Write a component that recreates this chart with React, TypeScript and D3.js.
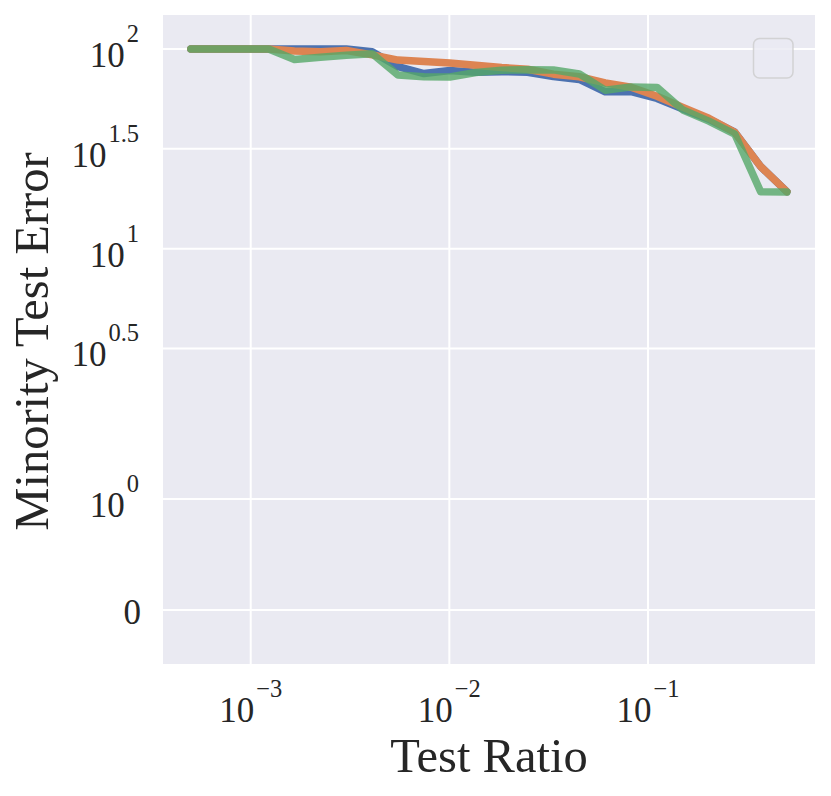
import React from "react";
import * as d3 from "d3";

// ---- data ----
const testRatio = [
  0.0005, 0.000675, 0.000911, 0.001231, 0.001661, 0.002243, 0.003028, 0.004088,
  0.005519, 0.007451, 0.01006, 0.01358, 0.01834, 0.02476, 0.03342, 0.04512,
  0.06092, 0.08225, 0.111, 0.1499, 0.2024, 0.2733, 0.369, 0.5,
];
const seriesBlue = [
  100, 100, 100, 100, 100, 100, 100, 97, 81.5, 75.3, 78, 76.5, 77, 76.5, 72.8,
  70.4, 61, 61.2, 56.5, 50, 44.5, 38.3, 25.8, 19.3,
];
const seriesOrange = [
  100, 100, 100, 100, 97.7, 97, 98.2, 93.5, 88, 86.5, 85, 83, 80.8, 79.2, 74.8,
  72.6, 67.6, 64.3, 58, 51, 45, 38.3, 25.8, 19.3,
];
const seriesGreen = [
  100, 100, 100, 100, 88.5, 91, 93, 94.7, 74, 72.6, 72.4, 76.3, 78.3, 78.8,
  78.6, 75, 62.2, 64.6, 64.2, 49.5, 43.5, 37.5, 19.3, 19.2,
];
const xTicks = [1e-3, 1e-2, 1e-1];
const xTickExp = ["\u22123", "\u22122", "\u22121"];
const yTicks = [0, 1, Math.pow(10, 0.5), 10, Math.pow(10, 1.5), 100];
const yTickBase = ["0", "10", "10", "10", "10", "10"];
const yTickExp = ["", "0", "0.5", "1", "1.5", "2"];

const colors = ["#4C72B0", "#DD8452", "#55A868"];
const alphas = [1, 1, 0.8];

// matplotlib-style symlog transform (linthresh 2, linscale 1)
const LINTHRESH = 2;
const LINSCALE_ADJ = 1 / (1 - 1 / 10);
function symT(v: number): number {
  const a = Math.abs(v);
  if (a <= LINTHRESH) return v * LINSCALE_ADJ;
  return Math.sign(v) * LINTHRESH * (LINSCALE_ADJ + Math.log10(a / LINTHRESH));
}

const W = 831;
const H = 796;
const axL = 163;
const axR = 815;
const axT = 15;
const axB = 664;

export default function App() {
  const x = d3.scaleLog().domain([1e-3, 1e-1]).range([250.7, 648]);
  const y = d3.scaleLinear().domain([0, symT(100)]).range([610, 49]);
  const line = d3
    .line<number>()
    .x((_, i) => x(testRatio[i]))
    .y((v) => y(symT(v)));

  const all = [seriesBlue, seriesOrange, seriesGreen];
  const font = "'Liberation Serif', 'Times New Roman', serif";
  const textColor = "#262626";

  return (
    <svg
      width={W}
      height={H}
      style={{ position: "absolute", left: 0, top: 0, background: "#fff" }}
    >
      <defs>
        <clipPath id="clip">
          <rect x={axL} y={axT} width={axR - axL} height={axB - axT} />
        </clipPath>
      </defs>
      <rect x={axL} y={axT} width={axR - axL} height={axB - axT} fill="#EAEAF2" />
      {/* grid */}
      {xTicks.map((t, i) => (
        <line key={"gx" + i} x1={x(t)} x2={x(t)} y1={axT} y2={axB} stroke="#fff" strokeWidth={2} />
      ))}
      {yTicks.map((t, i) => (
        <line key={"gy" + i} x1={axL} x2={axR} y1={y(symT(t))} y2={y(symT(t))} stroke="#fff" strokeWidth={2} />
      ))}
      {/* lines */}
      <g clipPath="url(#clip)">
        {all.map((s, i) => (
          <path
            key={"l" + i}
            d={line(s) || ""}
            fill="none"
            stroke={colors[i]}
            strokeOpacity={alphas[i]}
            strokeWidth={7.5}
            strokeLinejoin="round"
            strokeLinecap="round"
          />
        ))}
      </g>
      {/* empty legend */}
      <rect
        x={753.5}
        y={38.5}
        width={39.5}
        height={39.5}
        rx={6}
        fill="#EAEAF2"
        fillOpacity={0.8}
        stroke="#cccccc"
        strokeOpacity={0.8}
        strokeWidth={1.5}
      />
      {/* y tick labels */}
      {yTicks.map((t, i) => {
        const yy = y(symT(t));
        return (
          <text
            key={"yt" + i}
            x={yTickExp[i] ? 139 : 141}
            y={yy + (yTickExp[i] ? 18 : 14)}
            textAnchor="end"
            fontFamily={font}
            fontSize={35}
            fill={textColor}
          >
            <tspan>{yTickBase[i]}</tspan>
            {yTickExp[i] && (
              <tspan fontSize={24.5} dy={-25} dx={2}>
                {yTickExp[i]}
              </tspan>
            )}
          </text>
        );
      })}
      {/* x tick labels */}
      {xTicks.map((t, i) => (
        <text
          key={"xt" + i}
          x={x(t)}
          y={722}
          textAnchor="middle"
          fontFamily={font}
          fontSize={35}
          fill={textColor}
        >
          <tspan>10</tspan>
          <tspan fontSize={24.5} dy={-25} dx={2}>
            {xTickExp[i]}
          </tspan>
        </text>
      ))}
      {/* axis labels */}
      <text
        x={(axL + axR) / 2}
        y={772}
        textAnchor="middle"
        fontFamily={font}
        fontSize={48.5}
        fill={textColor}
      >
        Test Ratio
      </text>
      <text
        transform={`translate(48, ${(axT + axB) / 2 + 2}) rotate(-90)`}
        textAnchor="middle"
        fontFamily={font}
        fontSize={48.5}
        fill={textColor}
      >
        Minority Test Error
      </text>
    </svg>
  );
}
